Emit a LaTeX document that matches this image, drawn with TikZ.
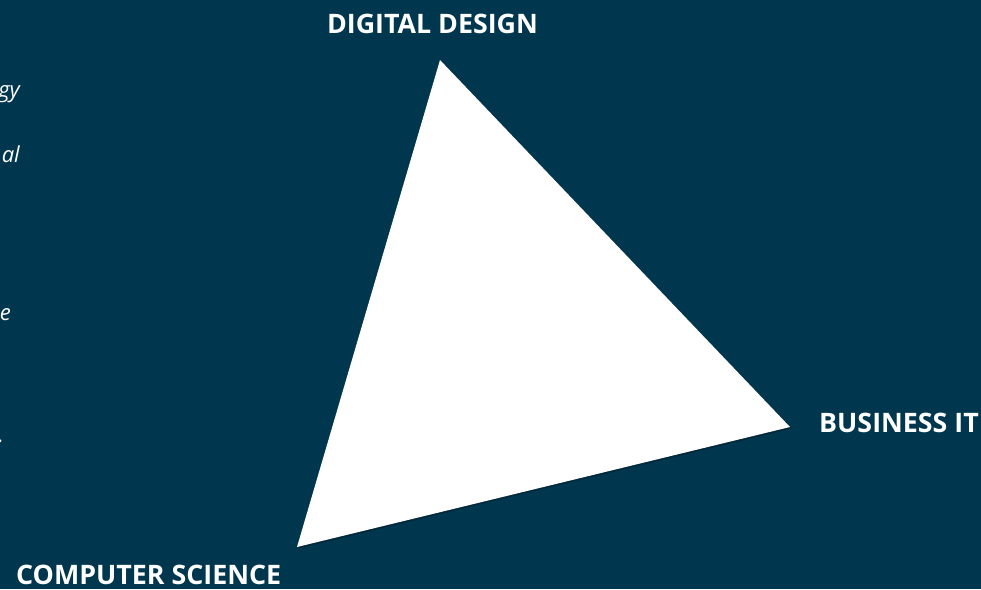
\documentclass[tikz,border=0pt]{standalone}
\usepackage{fontspec}
\setmainfont{Open Sans}
\definecolor{bgblue}{RGB}{0,54,78}
\begin{document}
\begin{tikzpicture}[x=1pt,y=-1pt,
  lab/.style={text=white,font=\bfseries\fontsize{26.8}{26.8}\selectfont,inner sep=0pt},
  frag/.style={text=white,font=\itshape\fontsize{22}{22}\selectfont,inner sep=0pt,anchor=base east}]
\fill[bgblue] (0,0) rectangle (981,589);
\useasboundingbox (0,0) rectangle (981,589);
\begin{scope}
\clip (0,0) rectangle (981,589);
\coordinate (top) at (440,60);
\coordinate (right) at (790,427);
\coordinate (left) at (297,547);
\fill[black,opacity=0.25] ([xshift=1.5pt,yshift=-1.5pt]top) -- ([xshift=1.5pt,yshift=-1.5pt]right) -- ([xshift=1.5pt,yshift=-1.5pt]left) -- cycle;
\fill[white] (top) -- (right) -- (left) -- cycle;
\node[lab,anchor=base] (dd) at (432.5,33) {DIGITAL DESIGN};
\node[lab,anchor=base west] (bit) at (819,432) {BUSINESS IT};
\node[lab,anchor=base west] (cs) at (16,584) {COMPUTER SCIENCE};
\node[frag] (f1) at (20,97) {gy};
\node[frag] (f2) at (20,162) {al};
\node[frag] (f3) at (11,320) {e};
\node[frag] (f4) at (4,442) {.};
\end{scope}
\end{tikzpicture}
\end{document}
